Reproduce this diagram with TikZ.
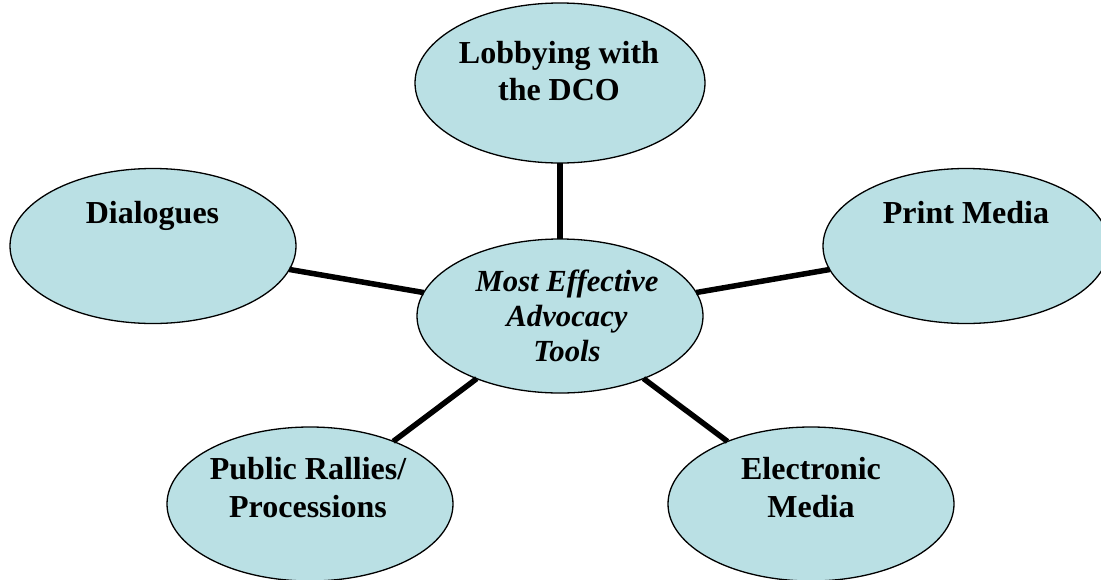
\documentclass[tikz,border=0pt]{standalone}
\usepackage{fontspec}
\setmainfont{Liberation Serif}
\usetikzlibrary{shapes.geometric}
\definecolor{bubble}{RGB}{186,224,228}
\tikzset{
  bub/.style={ellipse, draw=black, line width=1.3pt, fill=bubble, inner sep=0pt, outer sep=0pt},
  lab/.style={inner sep=0pt, align=center, font=\fontsize{32}{37}\selectfont\bfseries},
  mainlab/.style={inner sep=0pt, align=center, font=\fontsize{30.7}{35}\selectfont\bfseries\itshape},
  spoke/.style={line width=5.5pt}
}
\begin{document}
\begin{tikzpicture}[x=1pt,y=-1pt]
\useasboundingbox (0,0) rectangle (1101,579);
\clip (0,0) rectangle (1101,579);
\node[bub, minimum width=290pt, minimum height=160pt] (lob) at (560,83) {};
\node[bub, minimum width=286pt, minimum height=154pt] (cen) at (560,316) {};
\node[bub, minimum width=286pt, minimum height=155pt] (dia) at (153,246) {};
\node[bub, minimum width=286pt, minimum height=155pt] (pri) at (966,246) {};
\node[bub, minimum width=286pt, minimum height=154pt] (pub) at (310,504) {};
\node[bub, minimum width=286pt, minimum height=154pt] (ele) at (811,504) {};
\draw[spoke] (cen) -- (lob);
\draw[spoke] (cen) -- (dia);
\draw[spoke] (cen) -- (pri);
\draw[spoke] (cen) -- (pub);
\draw[spoke] (cen) -- (ele);
\node[lab] (loblab) at (559,74.1) {\strut Lobbying with\\the DCO\strut};
\node[mainlab] (cenlab) at (567,319.6) {\strut Most Effective\\Advocacy\\Tools\strut};
\node[lab, anchor=base] (dialab) at (152.5,223) {Dialogues};
\node[lab, anchor=base] (prilab) at (966,223) {Print Media};
\node[lab, font=\fontsize{32}{38}\selectfont\bfseries] (publab) at (308,490.6) {\strut Public Rallies/\\Processions\strut};
\node[lab, font=\fontsize{32}{38}\selectfont\bfseries] (elelab) at (811,490.6) {\strut Electronic\\Media\strut};
\end{tikzpicture}
\end{document}
